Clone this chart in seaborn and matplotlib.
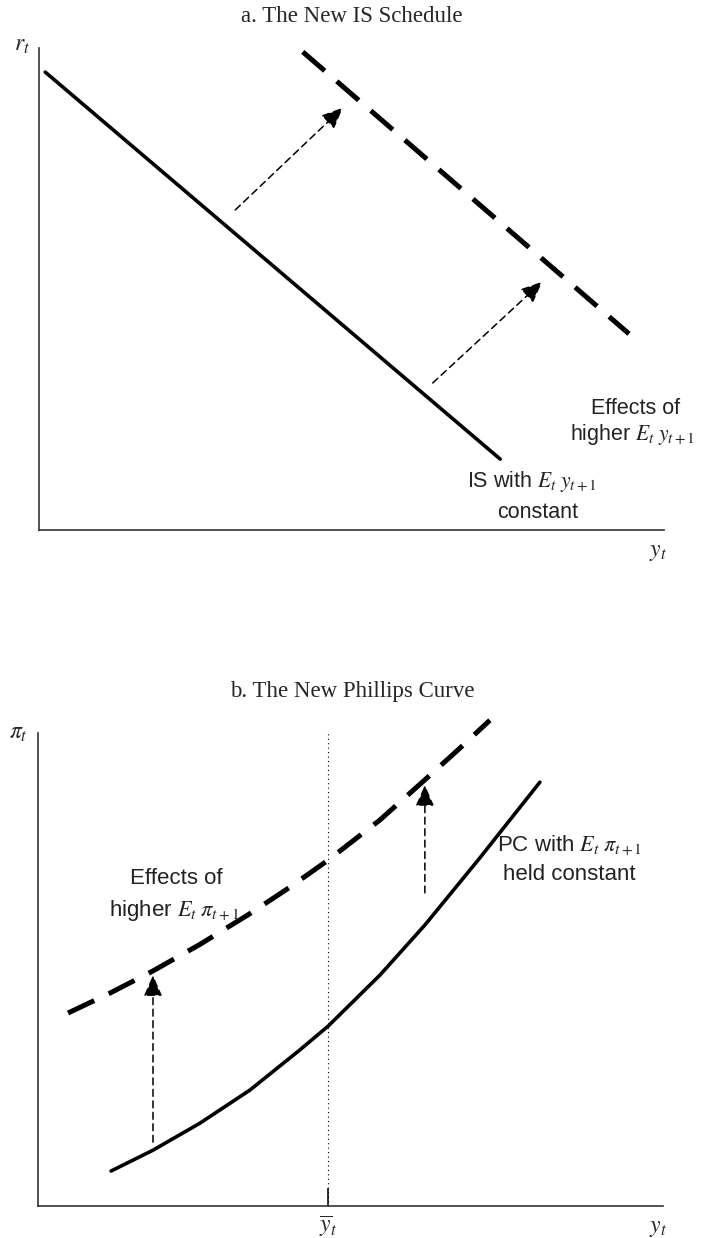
import matplotlib
matplotlib.use("Agg")
import matplotlib.pyplot as plt
import seaborn as sns

# panel a: the IS schedule (axis units 0-10)
is_x = [0.10, 7.38]
is_y = [9.50, 1.47]
is_new_x = [4.22, 9.44]
is_new_y = [9.92, 4.07]
is_arrows = [((3.14, 6.64), (4.86, 8.76)), ((6.30, 3.05), (8.05, 5.15))]

# panel b: the Phillips curve
pc_x = [1.17, 1.84, 2.59, 3.39, 4.19, 4.64, 5.47, 6.19, 7.07, 8.03]
pc_y = [0.74, 1.18, 1.75, 2.45, 3.30, 3.80, 4.88, 5.94, 7.36, 8.96]
pc_new_x = [0.48, 1.15, 1.84, 2.59, 3.39, 4.03, 4.64, 5.47, 6.19, 6.75, 7.23]
pc_new_y = [4.08, 4.50, 4.97, 5.53, 6.18, 6.74, 7.31, 8.16, 9.01, 9.68, 10.27]
pc_arrows = [((1.84, 1.35), (1.84, 4.88)), ((6.19, 6.62), (6.19, 8.90))]
y_bar = 4.64

sns.set_theme(style="white")
plt.rcParams["font.family"] = ["Liberation Sans", "DejaVu Sans"]
plt.rcParams["mathtext.fontset"] = "stix"

fig = plt.figure(figsize=(7.04, 12.38), dpi=100)
W, H = 704, 1238
ax1 = fig.add_axes([39 / W, 1 - 530 / H, (664 - 39) / W, (530 - 48) / H])
ax2 = fig.add_axes([38 / W, 1 - 1206 / H, (663 - 38) / W, (1206 - 733) / H])

for ax in (ax1, ax2):
    ax.set_xlim(0, 10)
    ax.set_ylim(0, 10)
    ax.set_xticks([])
    ax.set_yticks([])
    for s in ("top", "right"):
        ax.spines[s].set_visible(False)
    for s in ("left", "bottom"):
        ax.spines[s].set_color("#333333")
        ax.spines[s].set_linewidth(1.2)


def arrow(ax, start, tip):
    ax.annotate("", xy=tip, xytext=start,
                arrowprops=dict(arrowstyle="-|>,head_length=0.5,head_width=0.22",
                                color="black", lw=1.1,
                                linestyle=(0, (4.5, 3)), mutation_scale=26,
                                shrinkA=0, shrinkB=0))


# ---- panel a
sns.lineplot(x=is_x, y=is_y, ax=ax1, color="black", lw=2.6, estimator=None)
sns.lineplot(x=is_new_x, y=is_new_y, ax=ax1, color="black", lw=3.6,
             linestyle=(0, (5.8, 3.2)), estimator=None)
for a, b in is_arrows:
    arrow(ax1, a, b)

lab = dict(ha="center", va="center", fontsize=15.5, color="#222222")
ax1.text(9.55, 2.53, "Effects of", **lab)
ax1.text(9.50, 1.99, r"higher $E_t\;y_{t+\mathit{1}}$", **lab)
ax1.text(7.89, 1.00, r"IS with $E_t\;y_{t+\mathit{1}}$", **lab)
ax1.text(7.98, 0.37, "constant", **lab)
ax1.text(-0.027, 1.006, r"$r_t$", transform=ax1.transAxes, ha="center",
         va="center", fontsize=17)
ax1.text(0.99, -0.046, r"$y_t$", transform=ax1.transAxes, ha="center",
         va="center", fontsize=17)

# ---- panel b
ax2.axvline(y_bar, ymin=0.0, ymax=1.0, color="black", lw=0.8,
            linestyle=(0, (1, 3)))
sns.lineplot(x=pc_x, y=pc_y, ax=ax2, color="black", lw=2.6, estimator=None)
sns.lineplot(x=pc_new_x, y=pc_new_y, ax=ax2, color="black", lw=3.6,
             linestyle=(0, (5.8, 3.2)), estimator=None)
for l in ax2.lines:
    l.set_clip_on(False)
    l.set_solid_joinstyle("round")
for a, b in pc_arrows:
    arrow(ax2, a, b)

ax2.set_xticks([y_bar])
ax2.set_xticklabels([r"$\overline{y}_t$"], fontsize=17)
ax2.tick_params(axis="x", direction="in", length=13, width=1.4,
                color="#333333", pad=6, bottom=True)

lab2 = dict(lab, fontsize=16)
ax2.text(2.22, 6.92, "Effects of", **lab2)
ax2.text(2.18, 6.24, r"higher $E_t\;\pi_{t+\mathit{1}}$", **lab2)
ax2.text(8.50, 7.62, r"PC with $E_t\;\pi_{t+\mathit{1}}$", **lab2)
ax2.text(8.50, 7.00, "held constant", **lab2)
ax2.text(-0.032, 1.0, r"$\pi_t$", transform=ax2.transAxes, ha="center",
         va="center", fontsize=17)
ax2.text(0.992, -0.047, r"$y_t$", transform=ax2.transAxes, ha="center",
         va="center", fontsize=17)

fig.text(0.5, 1 - 17 / H, "a. The New IS Schedule", family="Liberation Serif",
         fontsize=16.5, ha="center", va="center")
fig.text(0.5, 1 - 692 / H, "b. The New Phillips Curve", family="Liberation Serif",
         fontsize=16.5, ha="center", va="center")

fig.savefig("out.png", dpi=100)
